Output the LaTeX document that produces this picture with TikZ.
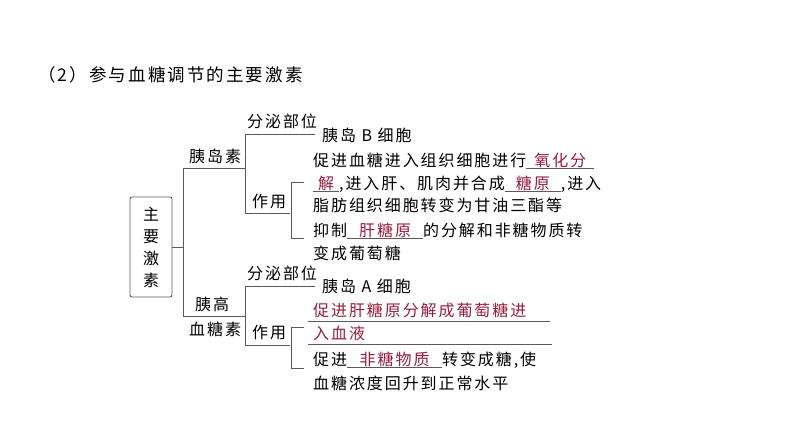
\documentclass[tikz,border=0pt]{standalone}
\usepackage{fontspec}
\setmainfont{Noto Sans CJK SC}[LetterSpace=12]
\definecolor{ans}{RGB}{150,30,60}
\definecolor{ln}{RGB}{90,90,90}
\newcommand{\blk}[2]{{\color{ln}\rlap{\rule[-3pt]{#1}{0.7pt}}}\makebox[#1]{\color{ans}#2}}
\begin{document}
\begin{tikzpicture}[x=1pt,y=-1pt,
  txt/.style={anchor=base west,inner sep=0pt,font=\fontsize{16}{18}\selectfont},
  con/.style={draw=ln,line width=0.9pt}]
\useasboundingbox (0,0) rectangle (794,447);
\node[anchor=west,inner sep=0pt,font=\fontsize{17.5}{20}\selectfont] (title) at (38,75) {（2）参与血糖调节的主要激素};
\node[draw=ln,line width=0.9pt,rounded corners=2pt,minimum width=42pt,minimum height=100pt,inner sep=0pt,align=center,font=\fontsize{16}{22}\selectfont] (box) at (151,247) {主\\要\\激\\素};
\coordinate (j) at (183,247);
\draw[con] (box.east) -- (j);
\draw[con] (245,168) -- (183,168) -- (183,316) -- (245,316);
\node[txt] (ins) at (189,162) {胰岛素};
\node[txt] (glu1) at (195,310) {胰高};
\node[txt] (glu2) at (189,335) {血糖素};
% upper
\draw[con] (315,134) -- (245,134) -- (245,213) -- (290,213);
\node[txt] (fm1) at (247,127) {分泌部位};
\node[txt] (zy1) at (252,207) {作用};
\node[txt] (b) at (322,141) {胰岛 B 细胞};
\draw[con] (304,182) -- (291,182) -- (291,238) -- (304,238);
\node[txt] (u1) at (313,166) {促进血糖进入组织细胞进行\blk{68pt}{氧化分}};
\node[txt] (u2) at (313,189) {\blk{26pt}{解},进入肝、肌肉并合成\blk{56pt}{糖原},进入};
\node[txt] (u3) at (313,211) {脂肪组织细胞转变为甘油三酯等};
\node[txt] (u4) at (313,236) {抑制\blk{76pt}{肝糖原}的分解和非糖物质转};
\node[txt] (u5) at (313,259) {变成葡萄糖};
% lower
\draw[con] (315,286) -- (245,286) -- (245,345) -- (290,345);
\node[txt] (fm2) at (247,279) {分泌部位};
\node[txt] (zy2) at (252,338) {作用};
\node[txt] (a) at (322,292) {胰岛 A 细胞};
\draw[con] (304,327) -- (291,327) -- (291,368) -- (304,368);
\node[txt,text=ans] (l1) at (313,316) {促进肝糖原分解成葡萄糖进};
\node[txt,text=ans] (l2) at (313,339) {入血液};
\draw[con] (308,321) -- (550,321);
\draw[con] (308,344) -- (552,344);
\node[txt] (l3) at (313,365) {促进\blk{95pt}{非糖物质}转变成糖,使};
\node[txt] (l4) at (313,389) {血糖浓度回升到正常水平};
\end{tikzpicture}
\end{document}
